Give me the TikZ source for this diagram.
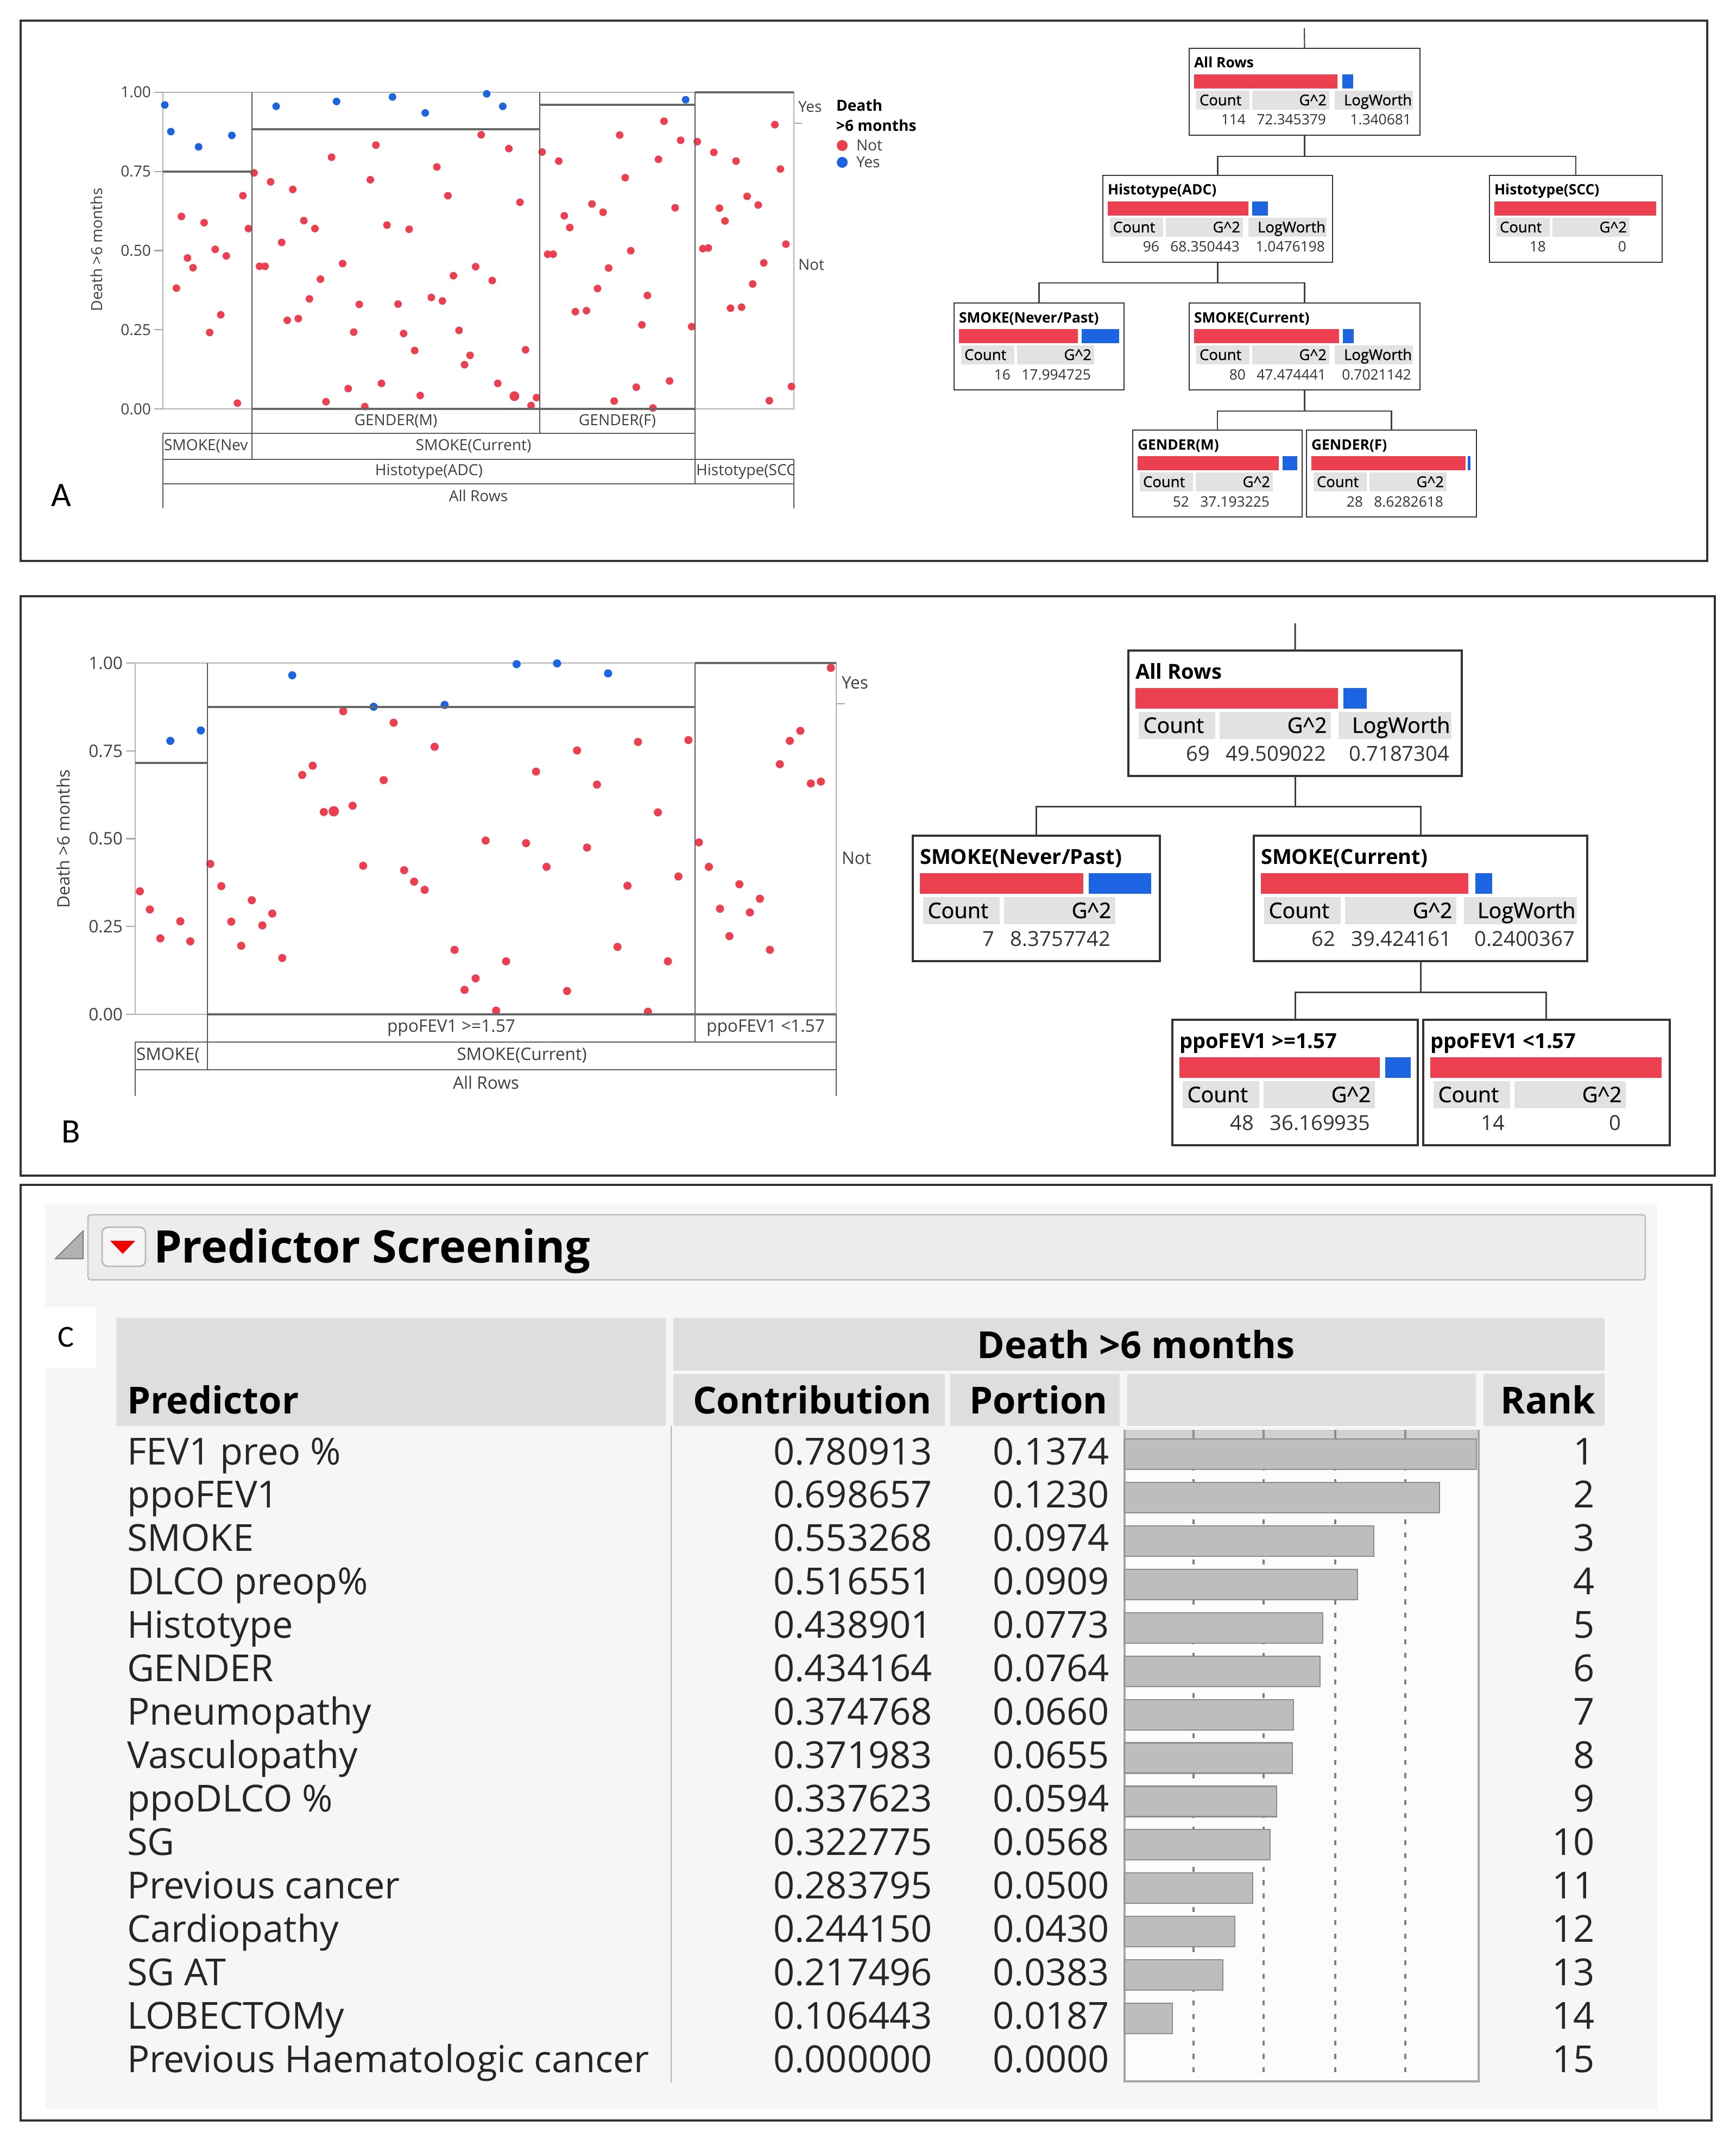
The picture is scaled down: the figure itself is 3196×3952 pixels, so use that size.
\documentclass[tikz,border=0pt]{standalone}
\usepackage{fontspec}
\setmainfont{Open Sans}
\newfontfamily\labfont{Carlito}
\newfontfamily\semib[FakeBold=0.9]{Open Sans}
\definecolor{jred}{RGB}{236,64,80}
\definecolor{jblue}{RGB}{28,100,226}
\definecolor{thdr}{RGB}{226,226,226}
\definecolor{chdr}{RGB}{222,222,222}
\definecolor{cbg}{RGB}{246,246,246}
\definecolor{tbar}{RGB}{236,236,236}
\tikzset{
  txt/.style={inner sep=0, outer sep=0},
  pA/.style={txt, font=\fontsize{8}{9}\selectfont, text=black!75},
  pB/.style={txt, font=\fontsize{9}{10}\selectfont, text=black!75},
  plight/.style={draw=black!30, line width=0.6pt},
  pdiv/.style={draw=black!65, line width=0.6pt},
  psplit/.style={draw=black!60, line width=1.0pt},
  ptick/.style={draw=black!35, line width=0.6pt},
  conA/.style={draw=black!75, line width=0.6pt},
  conB/.style={draw=black!75, line width=0.85pt},
  frameP/.style={draw=black!80, line width=1.1pt},
  ctext/.style={txt, font=\fontsize{19.5}{22}\selectfont, text=black!85},
  chead/.style={txt, font=\fontsize{19.5}{22}\selectfont\bfseries, text=black},
  plab/.style={txt, font=\labfont\fontsize{18}{18}\selectfont},
}
% tree box: name, x, y, scale, width, title, red end, blue start, blue end
\newcommand\tbox[9]{%
  \pgfmathsetmacro\tbw{#5*#4*0.01}%
  \pgfmathsetmacro\tbh{160*#4*0.01}%
  \pgfmathsetmacro\tfs{7.5*#4}%
  \pgfmathsetmacro\tlw{0.75*#4}%
  \node[draw=black!80, line width=\tlw pt, rectangle, inner sep=0, outer sep=0,
        minimum width=\tbw cm, minimum height=\tbh cm, anchor=north west] (#1) at (#2,#3) {};
  \begin{scope}[shift={(#2,#3)}, scale=#4]
    \node[txt, anchor=base west, font=\fontsize{\tfs}{\tfs}\selectfont\bfseries] (#1-t) at (9,36) {#6};
    \fill[jred] (9,48) rectangle (#7,74);
    \ifdim #9pt>#8pt \fill[jblue] (#8,48) rectangle (#9,74);\fi
  \end{scope}}
% tree values: name, x, y, scale, count, G^2, LogWorth (may be empty)
\newcommand\tvals[7]{%
  \pgfmathsetmacro\tfs{7.5*#4}%
  \pgfmathsetmacro\tfh{7.8*#4}%
  \begin{scope}[shift={(#2,#3)}, scale=#4, every node/.append style={txt, font=\fontsize{\tfs}{\tfs}\selectfont}]
    \fill[thdr] (13,78) rectangle (111,113);
    \fill[thdr] (116,78) rectangle (258,113);
    \node[anchor=base west, font=\semib\fontsize{\tfh}{\tfh}\selectfont] (#1-hc) at (19,105) {Count};
    \node[anchor=base east, font=\semib\fontsize{\tfh}{\tfh}\selectfont] (#1-hg) at (253,105) {G\textasciicircum 2};
    \node[anchor=base east, text=black!80] (#1-vc) at (104,141) {#5};
    \node[anchor=base east, text=black!80] (#1-vg) at (252,141) {#6};
    \def\tmplw{#7}%
    \ifx\tmplw\empty\else
      \fill[thdr] (268,78) rectangle (412,113);
      \node[anchor=base east, font=\semib\fontsize{\tfh}{\tfh}\selectfont] (#1-hl) at (410,105) {LogWorth};
      \node[anchor=base east, text=black!80] (#1-vl) at (409,141) {#7};
    \fi
  \end{scope}}
\begin{document}
\begin{tikzpicture}[x=0.01cm, y=-0.01cm]
\useasboundingbox (0,0) rectangle (3196,3952);
\fill[white] (0,0) rectangle (3196,3952);

% ================= PANEL FRAMES =================
\draw[frameP] (38,38) rectangle (3144,1033);
\draw[frameP] (38,1098) rectangle (3158,2165);
\draw[frameP] (38,2182) rectangle (3152,3905);

% ================= PANEL A : PLOT =================
\draw[plight] (300,170) rectangle (1462,753);
\foreach \v/\yy [count=\k] in {1.00/170,0.75/316,0.50/461.5,0.25/607,0.00/753} {
  \node[pA, anchor=east] (aty\k) at (278,\yy) {\v};
  \draw[ptick] (284,\yy) -- (300,\yy);
}
\node[pA, rotate=90] (aytitle) at (178,460) {Death >6 months};
% dots
\foreach \px/\py in {289/785,298/578,309/698,319/726,339/596,349/913,359/673,369/862,379/692,399/1117,409/518,419/613,
  429/452,439/722,449/722,459/478,479/653,489/878,499/500,509/873,519/590,529/816,539/613,549/759,559/1113,569/407,589/714,599/1075,609/912,619/832,629/1127,639/472,649/372,659/1060,669/603,689/831,699/916,709/615,719/965,729/1095,749/812,759/435,769/822,779/518,789/749,799/907,809/1006,819/979,829/723,839/342,859/763,869/1060,889/382,909/537,919/963,929/1124,939/1101,
  949/392,959/687,969/687,979/418,989/576,999/610,1009/853,1029/850,1039/542,1049/786,1059/566,1069/727,1079/1111,1089/343,1099/466,1109/677,1119/1071,1129/891,1139/806,1149/1131,1159/413,1169/303,1179/1053,1189/553,1199/358,1219/896,
  1229/362,1239/671,1249/669,1259/393,1269/554,1279/591,1289/843,1299/418,1309/840,1319/520,1329/773,1339/545,1349/712,1359/1110,1369/313,1379/441,1389/658,1399/1069}
  \fill[jred] ({\px/0.98+30},{\py/1.568+30}) circle[radius=0.07cm];
\fill[jred] ({899/0.98+30},{1097/1.568+30}) circle[radius=0.09cm];
\foreach \px/\py in {268/256,279/333,329/377,389/344,469/260,578/246,679/233,738/279,849/224,878/260,1208/241}
  \fill[jblue] ({\px/0.98+30},{\py/1.568+30}) circle[radius=0.07cm];
% partition lines
\draw[pdiv] (464,170) -- (464,846);
\draw[pdiv] (994,170) -- (994,798);
\draw[pdiv] (1280,170) -- (1280,891);
\draw[psplit] (300,316) -- (464,316);
\draw[psplit] (464,238) -- (994,238);
\draw[psplit] (994,193) -- (1280,193);
\draw[psplit] (1280,170) -- (1462,170);
\draw[psplit] (464,753) -- (1280,753);
\draw[pdiv] (300,798) -- (1280,798);
\draw[pdiv] (300,798) -- (300,936);
\draw[pdiv] (300,846) -- (1462,846);
\draw[pdiv] (1462,846) -- (1462,936);
\draw[pdiv] (300,891) -- (1462,891);
\node[pA] (agm) at (729,776) {GENDER(M)};
\node[pA] (agf) at (1137,776) {GENDER(F)};
\node[pA, anchor=west] (asn) at (302,822) {SMOKE(Nev};
\node[pA] (asc) at (872,822) {SMOKE(Current)};
\node[pA] (aha) at (790,869) {Histotype(ADC)};
\begin{scope}
  \clip (1281,850) rectangle (1461,890);
  \node[pA, anchor=west] (ahs) at (1282,869) {Histotype(SCC};
\end{scope}
\node[pA] (aall) at (881,913) {All Rows};
% right axis and legend
\node[pA, anchor=base west] (ayes) at (1470,207) {Yes};
\node[pA, anchor=west] (anot) at (1470,488) {Not};
\draw[ptick] (1463,227) -- (1477,227);
\node[pA, anchor=base west, text=black, font=\fontsize{8}{9}\selectfont\bfseries] (alg1) at (1540,205) {Death};
\node[pA, anchor=base west, text=black, font=\fontsize{8}{9}\selectfont\bfseries] (alg2) at (1540,242) {>6 months};
\fill[jred] (1551,268) circle[radius=0.1cm];
\fill[jblue] (1551,299) circle[radius=0.1cm];
\node[pA, anchor=base west] (alg3) at (1577,278) {Not};
\node[pA, anchor=base west] (alg4) at (1577,309) {Yes};
\node[plab] (labA) at (113,912) {A};

% ================= PANEL A : TREE =================
\tbox{aAll}{2190}{89}{1}{425}{All Rows}{273}{282}{302}
\tvals{aAll}{2190}{89}{1}{114}{72.345379}{1.340681}
\tbox{aADC}{2031}{323}{1}{423}{Histotype(ADC)}{268}{275}{304}
\tvals{aADC}{2031}{323}{1}{96}{68.350443}{1.0476198}
\tbox{aSCC}{2743}{323}{1}{318}{Histotype(SCC)}{307}{0}{0}
\tvals{aSCC}{2743}{323}{1}{18}{0}{}
\tbox{aNP}{1757}{558}{1}{313}{SMOKE(Never/Past)}{228}{235}{304}
\tvals{aNP}{1757}{558}{1}{16}{17.994725}{}
\tbox{aCur}{2190}{558}{1}{425}{SMOKE(Current)}{276}{283}{303}
\tvals{aCur}{2190}{558}{1}{80}{47.474441}{0.7021142}
\tbox{aM}{2086}{792}{1}{312}{GENDER(M)}{269}{276}{303}
\tvals{aM}{2086}{792}{1}{52}{37.193225}{}
\tbox{aF}{2406}{792}{1}{313}{GENDER(F)}{293}{297}{302}
\tvals{aF}{2406}{792}{1}{28}{8.6282618}{}
\coordinate (aTop) at (2402,52);
\draw[conA] (aTop) -- (aAll.north);
\draw[conA] (aAll.south) -- ++(0,39) -| (aADC.north);
\draw[conA] (aAll.south) -- ++(0,39) -| (aSCC.north);
\draw[conA] (aADC.south) -- ++(0,38) -| (aNP.north);
\draw[conA] (aADC.south) -- ++(0,38) -| (aCur.north);
\draw[conA] (aCur.south) -- ++(0,39) -| (aM.north);
\draw[conA] (aCur.south) -- ++(0,39) -| (aF.north);

% ================= PANEL B : PLOT =================
\draw[plight] (249,1221) rectangle (1540,1868);
\foreach \v/\yy [count=\k] in {1.00/1221,0.75/1383,0.50/1544.5,0.25/1706,0.00/1868} {
  \node[pB, anchor=east] (bty\k) at (226,\yy) {\v};
  \draw[ptick] (232,\yy) -- (249,\yy);
}
\node[pB, rotate=90] (bytitle) at (117,1545) {Death >6 months};
\foreach \px/\py in {223/808,241/857,260/935,296/889,314/943,
  350/734,370/794,388/890,406/955,425/832,444/900,462/868,480/988,516/494,535/469,555/594,590/322,607/577,626/739,663/508,681/353,700/751,718/782,737/804,755/418,791/966,809/1074,829/1043,847/671,866/1130,884/997,920/678,938/485,957/742,994/1077,1012/428,1030/690,1048/520,1085/958,1103/793,1122/405,1140/1133,1158/595,1176/997,1195/768,1213/400,
  1232/676,1250/742,1270/855,1287/929,1305/789,1324/865,1342/828,1360/966,1378/465,1396/402,1415/375,1434/517,1452/512,1470/205}
  \fill[jred] ({\px/0.98+30},{\py/1.4654+1090}) circle[radius=0.075cm];
\fill[jred] ({573/0.98+30},{592/1.4654+1090}) circle[radius=0.095cm];
\foreach \px/\py in {278/402,333/374,498/225,645/310,773/305,903/195,976/193,1068/220}
  \fill[jblue] ({\px/0.98+30},{\py/1.4654+1090}) circle[radius=0.075cm];
\draw[pdiv] (382,1221) -- (382,1970);
\draw[pdiv] (1280,1221) -- (1280,1919);
\draw[psplit] (249,1405) -- (382,1405);
\draw[psplit] (382,1302) -- (1280,1302);
\draw[psplit] (1280,1221) -- (1540,1221);
\draw[psplit] (382,1868) -- (1540,1868);
\draw[pdiv] (1540,1868) -- (1540,2018);
\draw[pdiv] (249,1919) -- (1540,1919);
\draw[pdiv] (249,1919) -- (249,2018);
\draw[pdiv] (249,1970) -- (1540,1970);
\node[pB] (bge) at (831,1893) {ppoFEV1 >=1.57};
\node[pB] (blt) at (1410,1893) {ppoFEV1 <1.57};
\node[pB, anchor=west] (bsn) at (251,1944) {SMOKE(};
\node[pB] (bsc) at (961,1944) {SMOKE(Current)};
\node[pB] (ball) at (895,1994) {All Rows};
\node[pB, anchor=west] (byes) at (1550,1257) {Yes};
\node[pB, anchor=west] (bnot) at (1550,1580) {Not};
\draw[ptick] (1541,1296) -- (1556,1296);
\node[plab] (labB) at (131,2084) {B};

% ================= PANEL B : TREE =================
\tbox{bAll}{2078}{1198}{1.445}{425}{All Rows}{267}{274}{304}
\tvals{bAll}{2078}{1198}{1.445}{69}{49.509022}{0.7187304}
\tbox{bNP}{1681}{1539}{1.445}{315}{SMOKE(Never/Past)}{217}{224}{304}
\tvals{bNP}{1681}{1539}{1.445}{7}{8.3757742}{}
\tbox{bCur}{2309}{1539}{1.445}{425}{SMOKE(Current)}{273}{282}{304}
\tvals{bCur}{2309}{1539}{1.445}{62}{39.424161}{0.2400367}
\tbox{bGE}{2159}{1878}{1.445}{313}{ppoFEV1 >=1.57}{264}{271}{304}
\tvals{bGE}{2159}{1878}{1.445}{48}{36.169935}{}
\tbox{bLT}{2621}{1878}{1.445}{314}{ppoFEV1 <1.57}{304}{0}{0}
\tvals{bLT}{2621}{1878}{1.445}{14}{0}{}
\coordinate (bTop) at (2385,1148);
\draw[conB] (bTop) -- (bAll.north);
\draw[conB] (bAll.south) -- ++(0,56) -| (bNP.north);
\draw[conB] (bAll.south) -- ++(0,56) -| (bCur.north);
\draw[conB] (bCur.south) -- ++(0,57) -| (bGE.north);
\draw[conB] (bCur.south) -- ++(0,57) -| (bLT.north);

% ================= PANEL C =================
\fill[cbg] (83,2218) rectangle (3052,3884);
\fill[white] (83,2407) rectangle (176,2520);
\node[plab, font=\labfont\fontsize{16}{16}\selectfont] (labC) at (121,2462) {C};
% title bar
\draw[fill=tbar, draw=black!25, line width=0.8pt, rounded corners=1.5pt] (162,2237) rectangle (3030,2357);
\filldraw[fill=black!30, draw=black!50, line width=0.6pt] (102,2318) -- (153,2318) -- (153,2267) -- cycle;
\draw[fill=black!4, draw=black!28, line width=0.8pt, rounded corners=3pt] (188,2260) rectangle (268,2332);
\fill[red!95!black] (203,2285) -- (249,2285) -- (226,2309) -- cycle;
\node[txt, anchor=base west, font=\fontsize{23.5}{26}\selectfont\bfseries] (ctitle) at (283,2325) {Predictor Screening};
% table header
\fill[chdr] (214,2427) rectangle (1226,2626);
\fill[chdr] (1240,2427) rectangle (2955,2524);
\fill[chdr] (1240,2530) rectangle (1740,2626);
\fill[chdr] (1750,2530) rectangle (2062,2626);
\fill[chdr] (2076,2530) rectangle (2718,2626);
\fill[chdr] (2732,2530) rectangle (2955,2626);
\node[chead, anchor=base] (hdeath) at (2092,2501) {Death >6 months};
\node[chead, anchor=base west] (hpred) at (234,2603) {Predictor};
\node[chead, anchor=base east] (hcontr) at (1716,2603) {Contribution};
\node[chead, anchor=base east] (hport) at (2040,2603) {Portion};
\node[chead, anchor=base east] (hrank) at (2938,2603) {Rank};
% column separator
\draw[draw=black!30, line width=0.8pt] (1236,2626) -- (1236,3835);
% bar column
\fill[black!1] (2071,2633) rectangle (2723,3833);
\foreach \gx in {2198,2327,2459,2588}
  \draw[draw=black!50, line width=1.1pt, dash pattern=on 2.6pt off 4.4pt] (\gx,2650) -- (\gx,3833);
\fill[black!18] (2071,2633) rectangle (2723,2650);
\foreach \gx in {2198,2327,2459,2588}
  \draw[draw=black!45, line width=1.1pt] (\gx,2633) -- (\gx,2650);
\draw[draw=black!35, line width=1pt] (2071,2633) -- (2071,3833) -- (2723,3833) -- (2723,2633);
% rows
\foreach \nm/\cv/\pv [count=\i] in {FEV1 preo \%/0.780913/0.1374, ppoFEV1/0.698657/0.1230, SMOKE/0.553268/0.0974,
  DLCO preop\%/0.516551/0.0909, Histotype/0.438901/0.0773, GENDER/0.434164/0.0764,
  Pneumopathy/0.374768/0.0660, Vasculopathy/0.371983/0.0655, ppoDLCO \%/0.337623/0.0594,
  SG/0.322775/0.0568, Previous cancer/0.283795/0.0500, Cardiopathy/0.244150/0.0430,
  SG AT/0.217496/0.0383, LOBECTOMy/0.106443/0.0187, Previous Haematologic cancer/0.000000/0.0000} {
  \pgfmathsetmacro\by{2697+(\i-1)*79.93}
  \pgfmathsetmacro\bya{2650+(\i-1)*79.93}
  \pgfmathsetmacro\byb{\bya+56}
  \pgfmathsetmacro\bx{2071+\pv*4716}
  \ifdim \pv pt>0pt
    \filldraw[fill=black!26, draw=black!45, line width=0.6pt] (2071,\bya) rectangle (\bx,\byb);
  \fi
  \node[ctext, anchor=base west] (cn\i) at (234,\by) {\nm};
  \node[ctext, anchor=base east] (cc\i) at (1717,\by) {\cv};
  \node[ctext, anchor=base east] (cp\i) at (2043,\by) {\pv};
  \node[ctext, anchor=base east] (cr\i) at (2937,\by) {\i};
}
\end{tikzpicture}
\end{document}
